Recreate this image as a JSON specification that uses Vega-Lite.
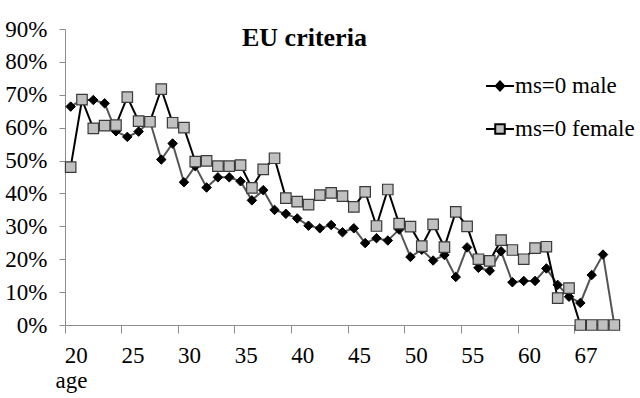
{
  "$schema": "https://vega.github.io/schema/vega-lite/v6.json",
  "autosize": {"type": "none"},
  "width": 555,
  "height": 296,
  "padding": {"left": 65, "top": 29, "right": 20, "bottom": 73},
  "background": "white",
  "title": {
    "text": "EU criteria",
    "anchor": "start",
    "frame": "group",
    "dx": 177,
    "offset": -54,
    "baseline": "alphabetic",
    "font": "Liberation Serif",
    "fontSize": 26,
    "fontWeight": "bold",
    "color": "#000"
  },
  "config": {
    "view": {"stroke": null},
    "axis": {"grid": false, "domainColor": "#8c8c8c", "tickColor": "#8c8c8c", "labelFont": "Liberation Serif", "labelFontSize": 23, "labelColor": "#000", "labelOverlap": false, "titleFont": "Liberation Serif", "titleFontSize": 23, "titleColor": "#000", "titleFontWeight": "normal"},
    "legend": {"title": null, "orient": "none", "legendX": 420, "legendY": 42, "padding": 0, "symbolSize": 784, "symbolStrokeWidth": 2, "symbolOpacity": 1, "rowPadding": 16, "labelOffset": 0, "labelFont": "Liberation Serif", "labelFontSize": 23, "labelColor": "#000"}
  },
  "data": {"values": [
    {"age": 20, "male": 66.4, "female": 48},
    {"age": 21, "male": 68.5, "female": 68.5},
    {"age": 22, "male": 68.4, "female": 59.8},
    {"age": 23, "male": 67.4, "female": 60.6},
    {"age": 24, "male": 58.9, "female": 60.8},
    {"age": 25, "male": 57.2, "female": 69.3},
    {"age": 26, "male": 58.8, "female": 62},
    {"age": 27, "male": 62, "female": 61.8},
    {"age": 28, "male": 50.3, "female": 71.7},
    {"age": 29, "male": 55.2, "female": 61.5},
    {"age": 30, "male": 43.4, "female": 60},
    {"age": 31, "male": 48.3, "female": 49.7},
    {"age": 32, "male": 41.8, "female": 49.9},
    {"age": 33, "male": 44.9, "female": 48.3},
    {"age": 34, "male": 44.9, "female": 48.3},
    {"age": 35, "male": 43.7, "female": 48.6},
    {"age": 36, "male": 37.9, "female": 41.7},
    {"age": 37, "male": 41, "female": 47.3},
    {"age": 38, "male": 35, "female": 50.7},
    {"age": 39, "male": 33.8, "female": 38.6},
    {"age": 40, "male": 32.4, "female": 37.5},
    {"age": 41, "male": 30.2, "female": 36.6},
    {"age": 42, "male": 29.4, "female": 39.5},
    {"age": 43, "male": 30.4, "female": 40.2},
    {"age": 44, "male": 28.2, "female": 39.2},
    {"age": 45, "male": 29.4, "female": 35.9},
    {"age": 46, "male": 24.9, "female": 40.5},
    {"age": 47, "male": 26.4, "female": 30.1},
    {"age": 48, "male": 25.7, "female": 41.2},
    {"age": 49, "male": 29, "female": 30.8},
    {"age": 50, "male": 20.7, "female": 29.9},
    {"age": 51, "male": 22.9, "female": 24},
    {"age": 52, "male": 19.6, "female": 30.6},
    {"age": 53, "male": 21.3, "female": 23.7},
    {"age": 54, "male": 14.6, "female": 34.4},
    {"age": 55, "male": 23.6, "female": 30},
    {"age": 56, "male": 17.4, "female": 20},
    {"age": 57, "male": 16.5, "female": 19.5},
    {"age": 58, "male": 22.4, "female": 25.8},
    {"age": 59, "male": 13, "female": 22.8},
    {"age": 60, "male": 13.4, "female": 20},
    {"age": 61, "male": 13.4, "female": 23.4},
    {"age": 62, "male": 17.2, "female": 23.8},
    {"age": 63, "male": 12.2, "female": 8.2},
    {"age": 64, "male": 8.6, "female": 11.2},
    {"age": 67, "male": 6.7, "female": 0},
    {"age": 68, "male": 15.2, "female": 0},
    {"age": 69, "male": 21.4, "female": 0},
    {"age": 70, "male": 0, "female": 0}
  ]},
  "encoding": {
    "x": {
      "field": "age",
      "type": "ordinal",
      "bandPosition": 0.5,
      "scale": {"type": "band", "paddingInner": 0, "paddingOuter": 0},
      "axis": {
        "values": [20, 25, 30, 35, 40, 45, 50, 55, 60, 67],
        "bandPosition": 0,
        "labelOffset": 5.67,
        "labelAngle": 0,
        "labelAlign": "center",
        "labelFont": "Liberation Serif",
        "labelFontSize": 23,
        "tickSize": 8,
        "labelPadding": 11,
        "title": "age",
        "titleFont": "Liberation Serif",
        "titleFontSize": 23,
        "titleFontWeight": "normal",
        "titleX": -10,
        "titleY": 62,
        "titleAlign": "left",
        "titleBaseline": "alphabetic",
        "titleAnchor": null
      }
    }
  },
  "layer": [
    {
      "mark": {"type": "line", "color": "#555555", "strokeWidth": 2},
      "encoding": {
        "y": {
          "field": "male",
          "type": "quantitative",
          "scale": {"domain": [0, 90], "nice": false},
          "axis": {"values": [0, 10, 20, 30, 40, 50, 60, 70, 80, 90], "labelExpr": "datum.value + '%'", "labelFont": "Liberation Serif", "labelFontSize": 23, "labelOverlap": false, "tickSize": 6, "labelPadding": 12, "title": null}
        }
      }
    },
    {
      "mark": {"type": "point", "shape": "diamond", "filled": true, "fill": "#000", "stroke": "#000", "strokeWidth": 1, "opacity": 1, "size": 90},
      "encoding": {
        "y": {"field": "male", "type": "quantitative",
          "axis": {"values": [0, 10, 20, 30, 40, 50, 60, 70, 80, 90], "labelExpr": "datum.value + '%'", "labelFont": "Liberation Serif", "labelFontSize": 23, "labelOverlap": false, "tickSize": 6, "labelPadding": 12, "title": null}}
      }
    },
    {
      "mark": {"type": "line", "color": "#000000", "strokeWidth": 2},
      "encoding": {
        "y": {"field": "female", "type": "quantitative",
          "axis": {"values": [0, 10, 20, 30, 40, 50, 60, 70, 80, 90], "labelExpr": "datum.value + '%'", "labelFont": "Liberation Serif", "labelFontSize": 23, "labelOverlap": false, "tickSize": 6, "labelPadding": 12, "title": null}}
      }
    },
    {
      "mark": {"type": "point", "shape": "square", "filled": true, "fill": "#c0c0c0", "stroke": "#3a3a3a", "strokeWidth": 1.2, "opacity": 1, "size": 110},
      "encoding": {
        "y": {"field": "female", "type": "quantitative",
          "axis": {"values": [0, 10, 20, 30, 40, 50, 60, 70, 80, 90], "labelExpr": "datum.value + '%'", "labelFont": "Liberation Serif", "labelFontSize": 23, "labelOverlap": false, "tickSize": 6, "labelPadding": 12, "title": null}}
      }
    },
    {
      "transform": [{"filter": "datum.age > 100"}],
      "mark": {"type": "point", "filled": true, "strokeWidth": 2, "opacity": 1},
      "encoding": {
        "y": {"field": "female", "type": "quantitative",
          "axis": {"values": [0, 10, 20, 30, 40, 50, 60, 70, 80, 90], "labelExpr": "datum.value + '%'", "labelFont": "Liberation Serif", "labelFontSize": 23, "labelOverlap": false, "tickSize": 6, "labelPadding": 12, "title": null}},
        "shape": {
          "datum": "ms=0 male",
          "type": "nominal",
          "scale": {"domain": ["ms=0 male", "ms=0 female"], "range": ["M-1,0H1M0,-0.32L0.3,0L0,0.32L-0.3,0Z", "M-1,0H-0.34M0.34,0H1M-0.34,-0.34H0.34V0.34H-0.34Z"]}
        },
        "fill": {
          "datum": "ms=0 male",
          "type": "nominal",
          "scale": {"domain": ["ms=0 male", "ms=0 female"], "range": ["#000000", "#c0c0c0"]}
        },
        "stroke": {
          "datum": "ms=0 male",
          "type": "nominal",
          "scale": {"domain": ["ms=0 male", "ms=0 female"], "range": ["#000000", "#000000"]}
        }
      }
    }
  ]
}
